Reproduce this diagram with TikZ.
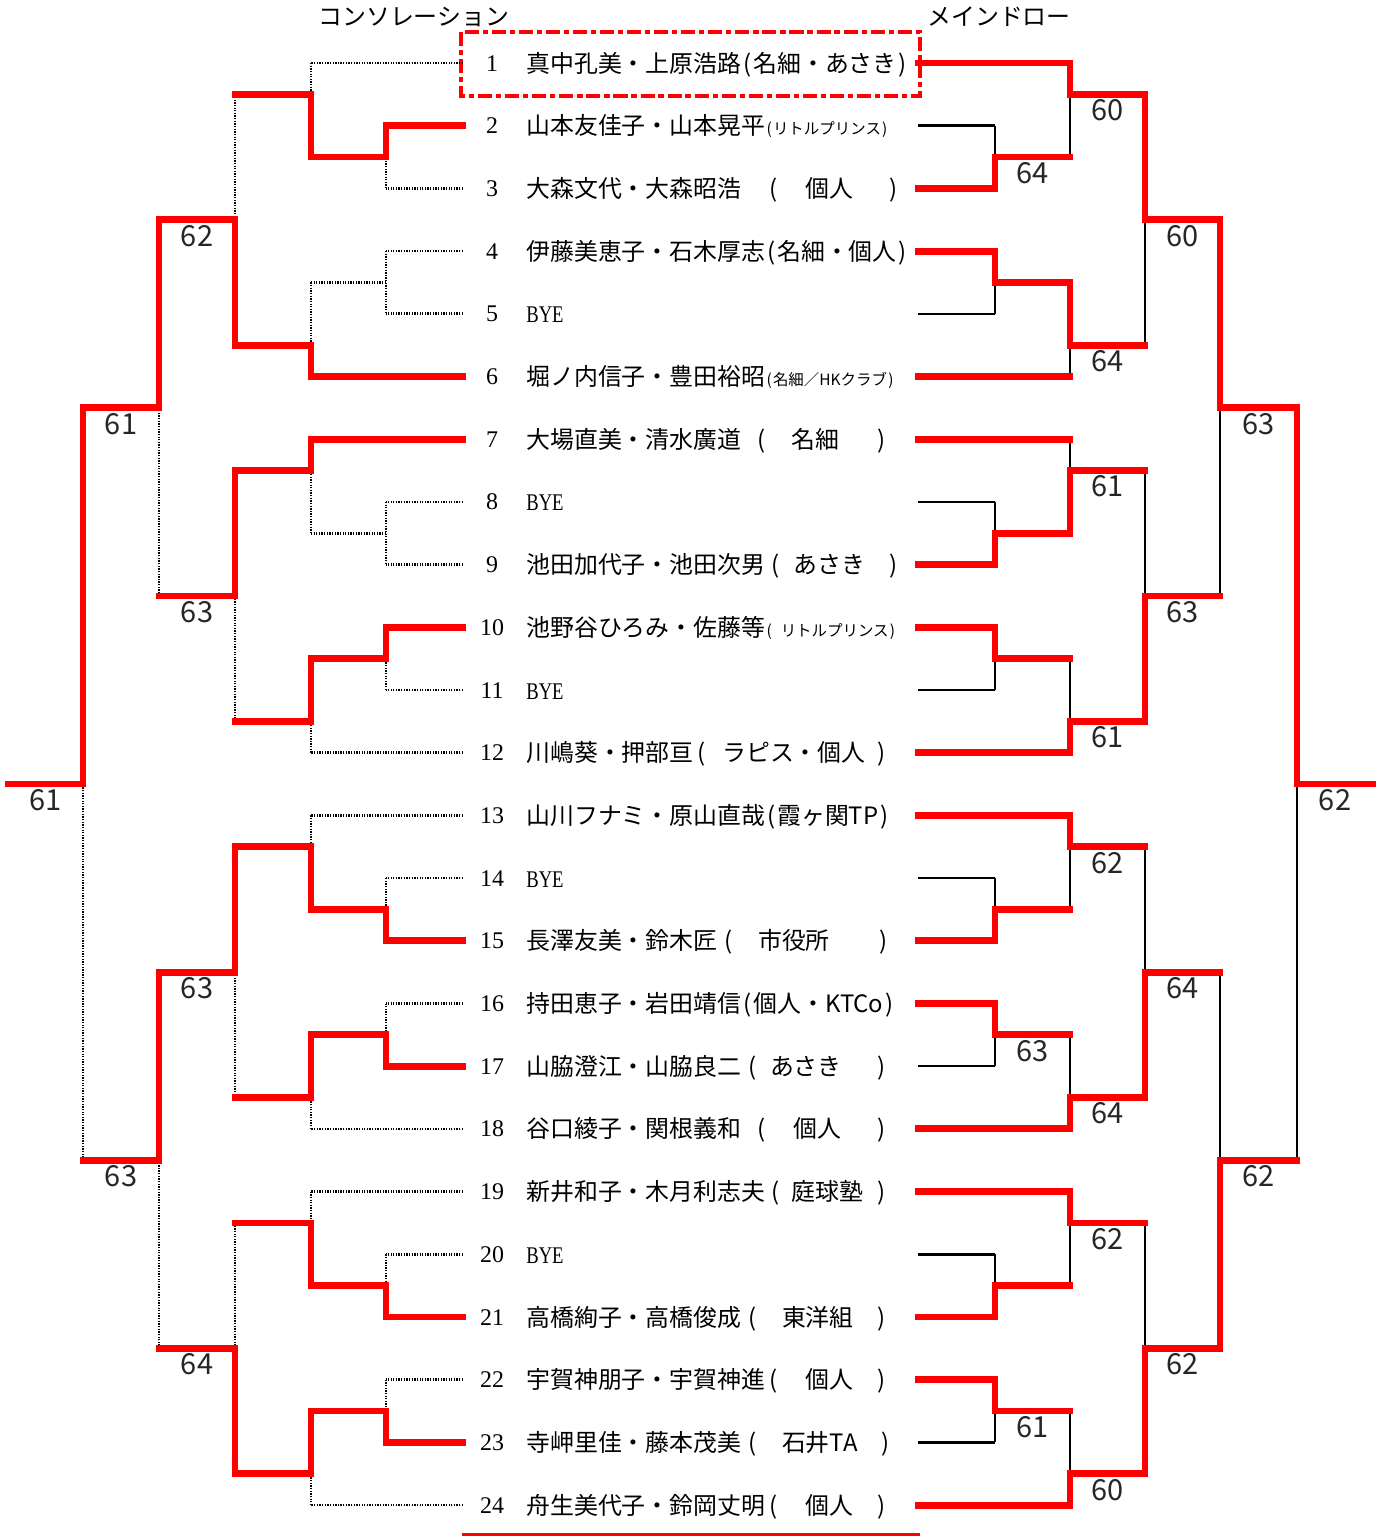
\documentclass[tikz,border=0pt]{standalone}
\usepackage{fontspec}
\newfontfamily\jp{Noto Sans CJK JP}
\newfontfamily\mn{Liberation Serif}
\definecolor{winred}{RGB}{255,0,0}
\pgfdeclarelayer{back}
\pgfsetlayers{back,main}
\pgfmathdeclarefunction{rowy}{1}{\pgfmathparse{63+62.7*(#1-1)}}
\newcommand\lp{\makebox[.5em]{(}}
\newcommand\rp{\makebox[.5em]{)}}
\newcommand\gp[1]{\hspace{#1em}}
\newcommand\sm{\fontsize{8.8}{10}\selectfont}
\newcommand\bye{\scalebox{.78}[1]{\mn BYE}}
\tikzset{
  win/.style={draw=winred,line width=3.9pt,line cap=rect},
  lose/.style={draw=black,line width=1.4pt},
  cons/.style={draw=black,line width=1.5pt,dash pattern=on .75pt off .75pt},
  entry/.style={anchor=base west,inner sep=0pt,font=\jp\fontsize{13.6}{16}\selectfont},
  num/.style={anchor=base,inner sep=0pt,font=\mn\fontsize{13.6}{16}\selectfont},
  score/.style={inner sep=0pt,font=\jp\fontsize{16.5}{18}\selectfont,text=black!85},
  dashbox/.style={draw=winred,line width=2.2pt,dash pattern=on 8pt off 2.2pt on 3pt off 2.2pt}
}
% matches: column/next column/winner row/loser row/junction row(/score)
\def\mainbye{995/1070/4/5/4.5, 995/1070/9/8/8.5, 995/1070/10/11/10.5, 995/1070/15/14/14.5, 995/1070/21/20/20.5}
\def\mainsc{995/1070/3/2/2.5/64, 995/1070/16/17/16.5/63, 995/1070/22/23/22.5/61,
  1070/1145/1/2.5/1.5/60, 1070/1145/4.5/6/5.5/64, 1070/1145/8.5/7/7.5/61, 1070/1145/12/10.5/11.5/61,
  1070/1145/13/14.5/13.5/62, 1070/1145/18/16.5/17.5/64, 1070/1145/19/20.5/19.5/62, 1070/1145/24/22.5/23.5/60,
  1145/1220/1.5/5.5/3.5/60, 1145/1220/11.5/7.5/9.5/63, 1145/1220/17.5/13.5/15.5/64, 1145/1220/23.5/19.5/21.5/62,
  1220/1297/3.5/9.5/6.5/63, 1220/1297/21.5/15.5/18.5/62, 1297/1373/6.5/18.5/12.5/62}
\def\consbye{386/311/2/3/2.5, 386/311/10/11/10.5, 386/311/15/14/14.5, 386/311/17/16/16.5, 386/311/21/20/20.5, 386/311/23/22/22.5,
  311/235/2.5/1/1.5, 311/235/6/4.5/5.5, 311/235/7/8.5/7.5, 311/235/10.5/12/11.5,
  311/235/14.5/13/13.5, 311/235/16.5/18/17.5, 311/235/20.5/19/19.5, 311/235/22.5/24/23.5}
\def\conssc{235/159/5.5/1.5/3.5/62, 235/159/7.5/11.5/9.5/63, 235/159/13.5/17.5/15.5/63, 235/159/23.5/19.5/21.5/64,
  159/83/3.5/9.5/6.5/61, 159/83/15.5/21.5/18.5/63, 83/8/6.5/18.5/12.5/61}
\begin{document}
\begin{tikzpicture}[x=0.02cm,y=-0.02cm]
\useasboundingbox (0,0) rectangle (1383,1538);
\node[entry] (hc) at (318,26) {コンソレーション};
\node[entry] (hm) at (927,26) {メインドロー};
% players
\foreach \rw/\nm in {
  1/真中孔美・上原浩路\lp 名細・あさき\rp,
  2/山本友佳子・山本晃平{\sm\lp リトルプリンス\rp},
  3/大森文代・大森昭浩\gp{1.1}\lp\gp{1.1}個人\gp{1.4}\rp,
  4/伊藤美恵子・石木厚志\lp 名細・個人\rp,
  5/\bye,
  6/堀ノ内信子・豊田裕昭{\sm\lp 名細／HKクラブ\rp},
  7/大場直美・清水廣道\gp{.6}\lp\gp{1}名細\gp{1.5}\rp,
  8/\bye,
  9/池田加代子・池田次男\gp{.2}\lp\gp{.5}あさき\gp{.9}\rp,
  10/池野谷ひろみ・佐藤等{\sm\lp\gp{.5}リトルプリンス\rp},
  11/\bye,
  12/川嶋葵・押部亘\gp{.1}\lp\gp{.6}ラピス・個人\gp{.4}\rp,
  13/山川フナミ・原山直哉\lp 霞ヶ関TP\rp,
  14/\bye,
  15/長澤友美・鈴木匠\gp{.2}\lp\gp{1}市役所\gp{2}\rp,
  16/持田恵子・岩田靖信\lp 個人・KTCo\rp,
  17/山脇澄江・山脇良二\gp{.2}\lp\gp{.5}あさき\gp{1.4}\rp,
  18/谷口綾子・関根義和\gp{.6}\lp\gp{1.1}個人\gp{1.4}\rp,
  19/新井和子・木月利志夫\gp{.2}\lp\gp{.4}庭球塾\gp{.5}\rp,
  20/\bye,
  21/高橋絢子・高橋俊成\gp{.2}\lp\gp{1}東洋組\gp{.9}\rp,
  22/宇賀神朋子・宇賀神進\gp{.1}\lp\gp{1.1}個人\gp{.9}\rp,
  23/寺岬里佳・藤本茂美\gp{.2}\lp\gp{1}石井TA\gp{.9}\rp,
  24/舟生美代子・鈴岡丈明\gp{.1}\lp\gp{1.1}個人\gp{.9}\rp}{
  \node[num] (n\rw) at (492,{rowy(\rw)+8}) {\rw};
  \node[entry] (e\rw) at (526,{rowy(\rw)+9}) {\nm};
  \coordinate (c\rw) at (463,{rowy(\rw)});
  \coordinate (m\rw) at (918,{rowy(\rw)});
}
\draw[dashbox] (461,32) rectangle (920,96);
\draw[winred,line width=1.7pt] (462,1534) -- (920,1534);
% main draw
\foreach \rw/\cx/\st in {1/1070/win, 2/995/lose, 3/995/win, 4/995/win, 5/995/lose, 6/1070/win, 7/1070/win, 8/995/lose,
  9/995/win, 10/995/win, 11/995/lose, 12/1070/win, 13/1070/win, 14/995/lose, 15/995/win, 16/995/win,
  17/995/lose, 18/1070/win, 19/1070/win, 20/995/lose, 21/995/win, 22/995/win, 23/995/lose, 24/1070/win}
  {\draw[\st] (m\rw) -- (\cx,{rowy(\rw)});}
\foreach \cx/\nx/\wr/\lr/\jr in \mainbye{
  \begin{pgfonlayer}{back}\draw[lose] (\cx,{rowy(\lr)}) -- (\cx,{rowy(\jr)});\end{pgfonlayer}
  \draw[win] (\cx,{rowy(\wr)}) -- (\cx,{rowy(\jr)}) -- (\nx,{rowy(\jr)});}
\foreach \cx/\nx/\wr/\lr/\jr/\sc [count=\k] in \mainsc{
  \begin{pgfonlayer}{back}\draw[lose] (\cx,{rowy(\lr)}) -- (\cx,{rowy(\jr)});\end{pgfonlayer}
  \draw[win] (\cx,{rowy(\wr)}) -- (\cx,{rowy(\jr)}) -- (\nx,{rowy(\jr)});
  \node[score] (ms\k) at ({(\cx+\nx)/2},{rowy(\jr)+16}) {\sc};}
% consolation
\foreach \rw/\cx/\st in {1/311/cons, 2/386/win, 3/386/cons, 4/386/cons, 5/386/cons, 6/311/win, 7/311/win, 8/386/cons,
  9/386/cons, 10/386/win, 11/386/cons, 12/311/cons, 13/311/cons, 14/386/cons, 15/386/win, 16/386/cons,
  17/386/win, 18/311/cons, 19/311/cons, 20/386/cons, 21/386/win, 22/386/cons, 23/386/win, 24/311/cons}
  {\draw[\st] (c\rw) -- (\cx,{rowy(\rw)});}
\draw[cons] (386,{rowy(4)}) -- (386,{rowy(5)}) (386,{rowy(4.5)}) -- (311,{rowy(4.5)});
\draw[cons] (386,{rowy(8)}) -- (386,{rowy(9)}) (386,{rowy(8.5)}) -- (311,{rowy(8.5)});
\foreach \cx/\nx/\wr/\lr/\jr in \consbye{
  \begin{pgfonlayer}{back}\draw[cons] (\cx,{rowy(\lr)}) -- (\cx,{rowy(\jr)});\end{pgfonlayer}
  \draw[win] (\cx,{rowy(\wr)}) -- (\cx,{rowy(\jr)}) -- (\nx,{rowy(\jr)});}
\foreach \cx/\nx/\wr/\lr/\jr/\sc [count=\k] in \conssc{
  \begin{pgfonlayer}{back}\draw[cons] (\cx,{rowy(\lr)}) -- (\cx,{rowy(\jr)});\end{pgfonlayer}
  \draw[win] (\cx,{rowy(\wr)}) -- (\cx,{rowy(\jr)}) -- (\nx,{rowy(\jr)});
  \node[score] (cs\k) at ({(\cx+\nx)/2},{rowy(\jr)+16}) {\sc};}
\end{tikzpicture}
\end{document}
